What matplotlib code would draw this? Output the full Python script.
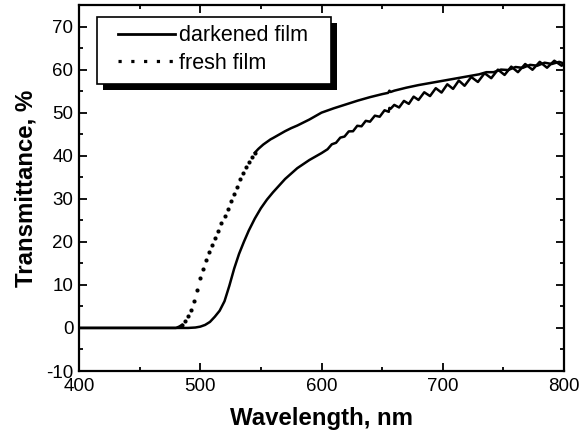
import matplotlib
matplotlib.use('Agg')
import matplotlib.pyplot as plt
import numpy as np
from matplotlib.lines import Line2D
from matplotlib.patches import Rectangle
from matplotlib.ticker import MultipleLocator

plt.rcParams['font.family'] = ['Liberation Sans', 'DejaVu Sans']
plt.rcParams['axes.unicode_minus'] = False

# ---------------- data ----------------
dark_wl = [400, 450, 490, 496, 500, 504, 508, 512, 516, 520, 524, 528, 532, 536,
           540, 545, 550, 555, 560, 570, 580, 590, 600, 605, 608.5, 612, 615.5,
           619, 622.5, 626, 629.5, 633, 636.5, 640, 644, 648, 652, 655.5, 656,
           657, 660, 664, 668, 672, 676, 680, 684.75, 689.5, 694.25, 699,
           703.75, 708.5, 713.25, 718, 723.5, 729, 734.5, 740, 745.5, 751,
           756.5, 762, 768, 774, 780, 786, 792, 798, 800]
dark_T = [0.0, 0.0, 0.0, 0.1, 0.3, 0.7, 1.4, 2.6, 4.0, 6.2, 9.8, 13.8, 17.2, 20.0,
          22.6, 25.4, 27.8, 29.8, 31.5, 34.6, 37.1, 39.0, 40.6, 41.5, 42.65, 43.0, 44.2,
          44.45, 45.65, 45.68, 46.95, 46.83, 48.1, 47.9, 49.3, 49.05, 50.55, 50.2, 51.1,
          50.9, 51.8, 51.2, 52.73, 52.04, 53.72, 52.95, 54.73, 53.85, 55.68, 54.66,
          56.59, 55.52, 57.46, 56.24, 58.28, 57.12, 59.16, 58.0, 59.99, 58.76,
          60.69, 59.4, 61.3, 59.96, 61.8, 60.43, 62.06, 60.9, 61.2]

fresh_wl = [400, 450, 476, 480, 482.5, 485, 487.5, 490, 492.5, 495, 497.5, 500,
            502.5, 505, 507.5, 510, 512.5, 515, 517.5, 520, 522.5, 525, 527.5, 530,
            532.5, 535, 537.5, 540, 542.5, 545, 548, 550, 552, 554, 556, 558, 560,
            565, 570, 575, 580, 590, 600, 610, 620, 630, 640, 650, 655, 656, 657,
            660, 670, 680, 690, 700, 710, 720, 730, 736, 742, 748, 754, 760, 766,
            772, 778, 784, 790, 796, 800]
fresh_T = [0.0, 0.0, 0.0, 0.0, 0.3, 0.7, 1.6, 2.8, 4.2, 6.2, 8.9, 11.5,
           13.8, 15.8, 17.7, 19.3, 20.9, 22.6, 24.3, 25.9, 27.7, 29.5, 31.2, 32.8,
           34.5, 36.0, 37.3, 38.6, 39.7, 40.7, 41.6, 42.1, 42.6, 43.0, 43.4, 43.8, 44.1,
           44.9, 45.7, 46.4, 47.0, 48.4, 50.0, 51.0, 51.9, 52.8, 53.6, 54.3, 54.6, 55.1, 54.8,
           55.1, 55.8, 56.4, 56.9, 57.4, 57.9, 58.4, 58.9, 59.4, 59.4, 60.0, 59.9, 60.6, 60.4,
           61.1, 60.9, 61.6, 61.3, 61.8, 61.4]

series_labels = ['darkened film', 'fresh film']
x_ticks = [400, 500, 600, 700, 800]
y_ticks = [-10, 0, 10, 20, 30, 40, 50, 60, 70]
x_label = 'Wavelength, nm'
y_label = 'Transmittance, %'

# ---------------- figure ----------------
W, H = 581, 436
fig = plt.figure(figsize=(W / 100, H / 100), dpi=100)
ax = fig.add_axes([79 / W, 1 - 371 / H, (564 - 79) / W, (371 - 5) / H])

ax.plot(dark_wl, dark_T, color='black', lw=1.8, solid_joinstyle='round', zorder=3)

fw = np.array(fresh_wl)
ft = np.array(fresh_T)
m_line1 = fw <= 485
m_line2 = fw >= 545
m_dots = (fw >= 485) & (fw <= 545)
ax.plot(fw[m_line1], ft[m_line1], color='black', lw=1.8, zorder=3)
ax.plot(fw[m_line2], ft[m_line2], color='black', lw=1.8, solid_joinstyle='round', zorder=3)
ax.plot(fw[m_dots], ft[m_dots], linestyle='none', marker='o', ms=3.0, mew=0,
        color='black', zorder=3)

ax.set_xlim(400, 800)
ax.set_ylim(-10, 75)
ax.set_xticks(x_ticks)
ax.set_yticks(y_ticks)
ax.xaxis.set_minor_locator(MultipleLocator(50))
ax.yaxis.set_minor_locator(MultipleLocator(5))
ax.tick_params(which='both', direction='in', top=True, right=True, width=1.3,
               labelsize=13.5, color='black')
ax.tick_params(which='major', length=5.5)
ax.tick_params(which='minor', length=3)
ax.tick_params(axis='x', which='major', pad=5)
ax.tick_params(axis='y', which='major', pad=4)
for s in ax.spines.values():
    s.set_linewidth(1.6)

ax.set_xlabel(x_label, fontsize=17.3, fontweight='bold', labelpad=9)
ax.set_ylabel(y_label, fontsize=17.3, fontweight='bold', labelpad=6)

# legend content (frame drawn separately with a hard black shadow)
handles = [Line2D([], [], color='black', lw=2.0),
           Line2D([], [], color='black', lw=2.3, ls=(0, (1, 3)), dash_capstyle='butt')]
leg = ax.legend(handles, series_labels, loc='center left',
                bbox_to_anchor=(118 / W, 1 - 49.5 / H), bbox_transform=fig.transFigure,
                borderaxespad=0, borderpad=0, fontsize=15.5, handlelength=2.65,
                handletextpad=0.2, labelspacing=0.3, frameon=False)
leg.set_zorder(6)

bx0, by0, bx1, by1 = 97, 17, 331, 84
off = 6
ax.add_patch(Rectangle(((bx0 + off) / W, 1 - (by1 + off) / H), (bx1 - bx0) / W,
                       (by1 - by0) / H, transform=fig.transFigure, facecolor='black',
                       edgecolor='none', zorder=4.5, clip_on=False))
ax.add_patch(Rectangle((bx0 / W, 1 - by1 / H), (bx1 - bx0) / W, (by1 - by0) / H,
                       transform=fig.transFigure, facecolor='white', edgecolor='black',
                       lw=1.2, zorder=4.6, clip_on=False))

fig.savefig('out.png', dpi=100)
